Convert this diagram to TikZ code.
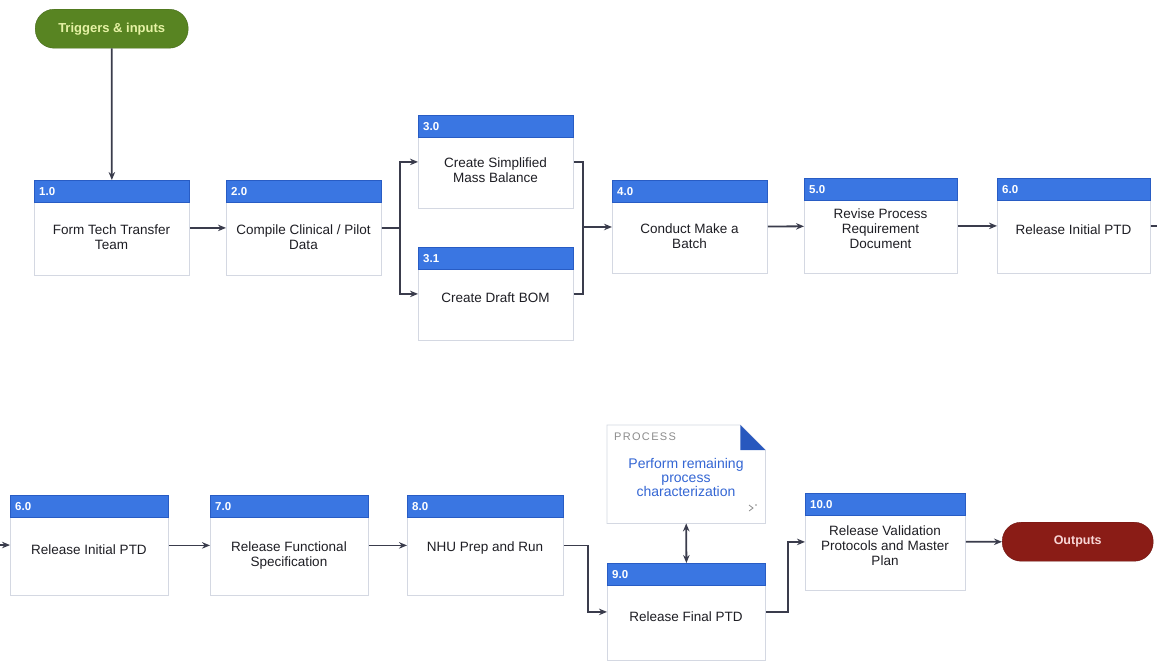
\documentclass[tikz,border=0pt]{standalone}
\usepackage{fontspec}
\setmainfont{Liberation Sans}
\usetikzlibrary{arrows.meta,calc}

\definecolor{headblue}{RGB}{58,118,226}
\definecolor{headedge}{RGB}{40,92,196}
\definecolor{cardline}{RGB}{212,216,226}
\definecolor{inkgray}{RGB}{30,30,36}
\definecolor{wire}{RGB}{58,60,76}
\definecolor{trigfill}{RGB}{88,132,34}
\definecolor{trigtext}{RGB}{230,242,165}
\definecolor{outfill}{RGB}{138,28,22}
\definecolor{outtext}{RGB}{248,214,214}
\definecolor{procblue}{RGB}{52,102,212}
\definecolor{foldblue}{RGB}{40,88,190}

\tikzset{
  x=1pt, y=-1pt,
  card/.style={draw=cardline, fill=white, line width=0.8pt, inner sep=0pt, anchor=north west},
  cardhead/.style={fill=headblue, draw=headedge, line width=0.6pt, inner sep=0pt,
    minimum height=22pt, anchor=north west},
  headnum/.style={anchor=west, text=white, font=\fontsize{11.5}{13}\selectfont\bfseries, inner sep=0pt},
  cardtext/.style={align=center, text=inkgray, inner sep=0pt, font=\fontsize{13.5}{15}\selectfont},
  pill/.style={rounded corners=19pt, minimum height=39pt, inner sep=0pt, anchor=north west},
  link/.style={draw=wire, line width=1.8pt},
  flow/.style={link, -{Stealth[length=8pt,width=6.5pt]}},
}

% \card{name}{x}{y}{width}{height}{number}{text centre y}{text}
\newcommand{\card}[8]{%
  \node[card, minimum width=#4pt, minimum height=#5pt] (#1) at (#2,#3) {};
  \node[cardhead, minimum width=#4pt] (#1-h) at (#1.north west) {};
  \node[headnum] (#1-n) at ([xshift=5pt]#1-h.west) {#6};
  \node[cardtext] (#1-t) at (#2+#4/2,#7) {#8};
}

\begin{document}
\begin{tikzpicture}
\useasboundingbox[fill=white] (0,0) rectangle (1157,665);

% start and end terminals
\node[pill, fill=trigfill, draw=trigfill!80!black, text=trigtext, minimum width=153pt,
  font=\fontsize{13}{14}\selectfont\bfseries] (trig) at (35,9) {Triggers \& inputs};
\node[pill, fill=outfill, draw=outfill!80!black, text=outtext, minimum width=151pt,
  font=\fontsize{12.5}{14}\selectfont\bfseries] (out) at (1002,522) {Outputs};

% first row of steps
\card{s1}{34}{180}{155}{95}{1.0}{237}{Form Tech Transfer\\Team}
\card{s2}{226}{180}{155}{95}{2.0}{237}{Compile Clinical / Pilot\\Data}
\card{s3}{418}{115}{155}{93}{3.0}{170}{Create Simplified\\Mass Balance}
\card{s31}{418}{247}{155}{93}{3.1}{298}{Create Draft BOM}
\card{s4}{612}{180}{155}{93}{4.0}{236}{Conduct Make a\\Batch}
\card{s5}{804}{178}{153}{95}{5.0}{229}{Revise Process\\Requirement\\Document}
\card{s6}{997}{178}{153}{95}{6.0}{230}{Release Initial PTD}

% second row of steps
\card{b6}{10}{495}{158}{100}{6.0}{550}{Release Initial PTD}
\card{s7}{210}{495}{158}{100}{7.0}{555}{Release Functional\\Specification}
\card{s8}{407}{495}{156}{100}{8.0}{548}{NHU Prep and Run}
\card{s9}{607}{563}{158}{97}{9.0}{617}{Release Final PTD}
\card{s10}{805}{493}{160}{97}{10.0}{546}{Release Validation\\Protocols and Master\\Plan}

% linked process sheet with folded corner
\node[inner sep=0pt, minimum width=158pt, minimum height=98pt, anchor=north west] (proc) at (607,425) {};
\draw[draw=cardline, fill=white, line width=0.8pt]
  (proc.north west) -- ([xshift=-25pt]proc.north east) -- ([yshift=-25pt]proc.north east)
  -- (proc.south east) -- (proc.south west) -- cycle;
\fill[foldblue] ([xshift=-25pt]proc.north east) -- ([yshift=-25pt]proc.north east)
  -- ([xshift=-25pt,yshift=-25pt]proc.north east) -- cycle;
\node[anchor=west, inner sep=0pt, text=black!45,
  font=\fontsize{11}{12}\selectfont\addfontfeature{LetterSpace=12}] (proc-k) at (614,437) {PROCESS};
\node[align=center, inner sep=0pt, text=procblue, font=\fontsize{14}{14}\selectfont] (proc-t) at (686,477) {Perform remaining\\process\\characterization};
\node[inner sep=0pt, minimum size=8pt] (proc-i) at (752,508) {};
\draw[black!45, line width=0.8pt] ([xshift=-3pt,yshift=3pt]proc-i.center) -- ([xshift=1pt]proc-i.center) -- ([xshift=-3pt,yshift=-3pt]proc-i.center);
\fill[black!45] ([xshift=4pt,yshift=3pt]proc-i.center) circle (0.9pt);

% junction points
\coordinate (j1) at (400,228);
\coordinate (j2) at (583,227);
\coordinate (exitR) at (1157,226);
\coordinate (entryL) at (0,545);

% connectors, first row
\draw[flow] (trig) -- (s1);
\draw[flow] (s1) -- (s2);
\draw[link] (s2) -- (j1);
\draw[flow] (j1) |- (s3);
\draw[flow] (j1) |- (s31);
\draw[link] (s3.east) -| (j2);
\draw[link] (s31.east) -| (j2);
\draw[flow] (j2) -- (s4);
\draw[flow] (s4) -- (s5);
\draw[flow] (s5) -- (s6);
\draw[link] (s6) -- (exitR);

% connectors, second row
\draw[flow] (entryL) -- (b6);
\draw[flow] (b6) -- (s7);
\draw[flow] (s7) -- (s8);
\draw[flow] (s8.east) -- ++(24,0) |- (s9.west);
\draw[link, {Stealth[length=8pt,width=6.5pt]}-{Stealth[length=8pt,width=6.5pt]}] (proc.south) -- (s9.north);
\draw[flow] (s9.east) -- ++(22,0) |- (s10.west);
\draw[flow] (s10) -- (out);
\end{tikzpicture}
\end{document}
